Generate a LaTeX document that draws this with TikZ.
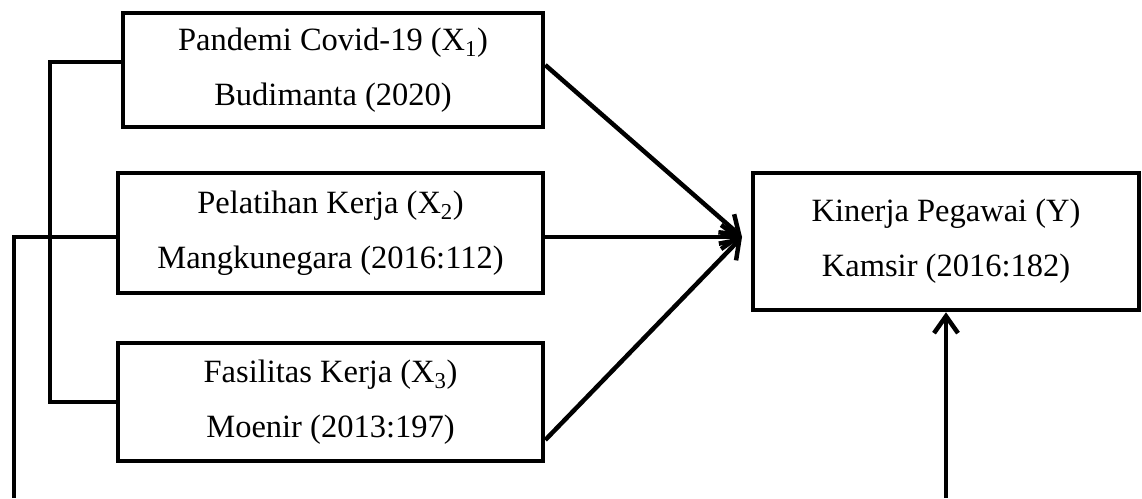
\documentclass[tikz,border=0pt]{standalone}
\usepackage{fontspec}
\setmainfont{Liberation Serif}
\usetikzlibrary{arrows.meta}
\begin{document}
\begin{tikzpicture}[
        x=1pt, y=-1pt,
        line width=4.5pt,
        every node/.style={font=\fontsize{32.5pt}{55pt}\selectfont, align=center},
        box/.style={draw, line width=4.5pt, inner sep=0pt},
        tip/.style={-{Straight Barb[length=17pt,width=24pt]}}
      ]

      \useasboundingbox (0,0) rectangle (1142,498);

      \node[box, minimum width=420pt, minimum height=114pt] (x1) at (333,70)
        {Pandemi Covid-19 (X\textsubscript{1})\\ Budimanta (2020)};
      \node[box, minimum width=425pt, minimum height=120pt] (x2) at (330.5,233)
        {Pelatihan Kerja (X\textsubscript{2})\\ Mangkunegara (2016:112)};
      \node[box, minimum width=425pt, minimum height=118pt] (x3) at (330.5,402)
        {Fasilitas Kerja (X\textsubscript{3})\\ Moenir (2013:197)};
      \node[box, minimum width=386pt, minimum height=137pt] (y) at (946,241.5)
        {Kinerja Pegawai (Y)\\ Kamsir (2016:182)};

      \coordinate (hub) at (742,237);
      \coordinate (bl) at (14,498);
      \coordinate (br) at (y.south |- bl);

      \draw[tip] ([yshift=5pt]x1.east) -- (hub);
      \draw[tip] (x2.east |- hub) -- (hub);
      \draw[tip] ([yshift=-38pt]x3.east) -- (hub);

      \draw ([yshift=8pt]x1.west) -| ([xshift=-66pt]x3.west) -- (x3.west);
      \draw (x2.west |- hub) -| (bl);
      \draw[tip] (br) -- (y.south);
    \end{tikzpicture}
\end{document}
